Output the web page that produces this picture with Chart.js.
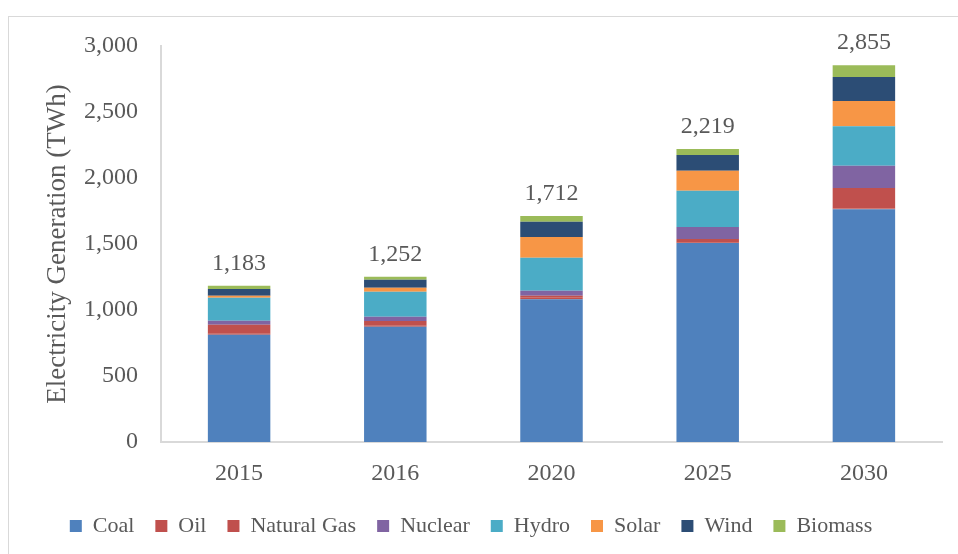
<!DOCTYPE html>
<html>
<head>
<meta charset="utf-8">
<script src="https://cdn.jsdelivr.net/npm/chart.js@4/dist/chart.umd.min.js"></script>
<style>
html,body{margin:0;padding:0;background:#fff;}
#wrap{position:relative;width:958px;height:554px;}
</style>
</head>
<body>
<div id="wrap"><canvas id="c" width="958" height="554"></canvas></div>
<script>
const categories = ['2015', '2016', '2020', '2025', '2030'];
const coal       = [813, 873, 1081, 1508, 1763];
const oil        = [8, 8, 15, 6, 6];
const naturalGas = [68, 36, 12, 24, 155];
const nuclear    = [30, 32, 38, 91, 169];
const hydro      = [174, 190, 250, 275, 299];
const solar      = [15, 30, 157, 151, 191];
const wind       = [51, 61, 116, 119, 182];
const biomass    = [24, 22, 43, 45, 90];
const totals     = [1183, 1252, 1712, 2219, 2855];
const yTicks     = [0, 500, 1000, 1500, 2000, 2500, 3000];

const FONT = '"Liberation Serif", "Times New Roman", serif';
const TEXT = '#595959';

const series = [
  ['Coal', coal, '#4F81BD'],
  ['Oil', oil, '#C0504D'],
  ['Natural Gas', naturalGas, '#C0504D'],
  ['Nuclear', nuclear, '#8064A2'],
  ['Hydro', hydro, '#4BACC6'],
  ['Solar', solar, '#F79646'],
  ['Wind', wind, '#2C4D75'],
  ['Biomass', biomass, '#9BBB59']
];

const frame = {
  id: 'frame',
  beforeDraw(chart) {
    const ctx = chart.ctx;
    ctx.save();
    ctx.strokeStyle = '#d9d9d9';
    ctx.lineWidth = 1;
    ctx.strokeRect(8.5, 16.5, 1000, 1000);
    ctx.restore();
  }
};

const totalLabels = {
  id: 'totalLabels',
  afterDatasetsDraw(chart) {
    const ctx = chart.ctx;
    const x = chart.scales.x, y = chart.scales.y;
    ctx.save();
    ctx.font = '24px ' + FONT;
    ctx.fillStyle = TEXT;
    ctx.textAlign = 'center';
    ctx.textBaseline = 'alphabetic';
    totals.forEach((t, i) => {
      ctx.fillText(t.toLocaleString('en-US'), x.getPixelForValue(i), y.getPixelForValue(t) - 16);
    });
    ctx.restore();
  }
};

new Chart(document.getElementById('c'), {
  type: 'bar',
  data: {
    labels: categories,
    datasets: series.map(([label, data, color]) => ({
      label, data, backgroundColor: color, borderWidth: 0,
      barPercentage: 1, categoryPercentage: 0.4
    }))
  },
  options: {
    responsive: false,
    animation: false,
    layout: { padding: { top: 46, right: 16, left: 0, bottom: 7 } },
    scales: {
      x: {
        stacked: true,
        grid: { display: false },
        border: { display: true, color: '#d9d9d9', width: 2 },
        ticks: { color: TEXT, font: { family: FONT, size: 24 }, padding: 9 },
        afterFit(s) { s.height = 52; }
      },
      y: {
        stacked: true,
        min: 0, max: 3000,
        afterBuildTicks(s) { s.ticks = yTicks.map(v => ({ value: v })); },
        grid: { display: false, drawTicks: false },
        border: { display: true, color: '#d9d9d9', width: 2 },
        ticks: {
          color: TEXT, font: { family: FONT, size: 24 }, padding: 23,
          callback: v => v.toLocaleString('en-US')
        },
        title: {
          display: true, text: 'Electricity Generation (TWh)', color: TEXT,
          font: { family: FONT, size: 27 }, padding: { top: 42, bottom: 0 }
        },
        afterFit(s) { s.width = 161; }
      }
    },
    plugins: {
      legend: {
        position: 'bottom',
        labels: {
          color: TEXT, font: { family: FONT, size: 22 },
          boxWidth: 12, boxHeight: 12, padding: 21
        }
      },
      tooltip: { enabled: false }
    }
  },
  plugins: [frame, totalLabels]
});
</script>
</body>
</html>
